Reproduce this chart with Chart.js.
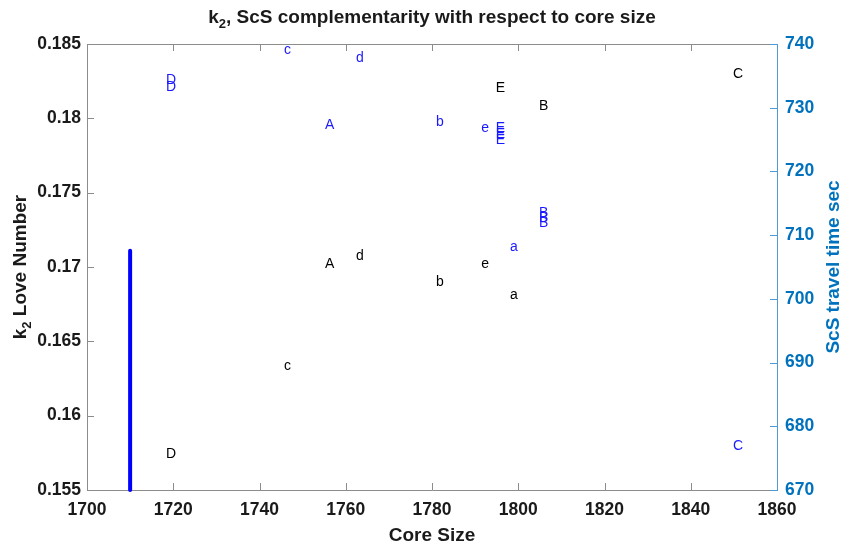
<!DOCTYPE html>
<html>
<head>
<meta charset="utf-8">
<script src="https://cdn.jsdelivr.net/npm/chart.js@4.4.1/dist/chart.umd.min.js"></script>
<style>
  html, body { margin:0; padding:0; background:#fff; }
  #wrap { width:845px; height:547px; }
</style>
</head>
<body>
<div id="wrap"><canvas id="k2Chart" width="845" height="547"></canvas></div>
<script>
/* ---------- data ---------- */

// k2 Love number (left axis, black letters)
const k2Letters = ['D','c','A','d','b','e','a','E','B','C'];
const k2Core    = [1718.3, 1745.7, 1755.2, 1762.4, 1780.9, 1791.4, 1798.1, 1794.8, 1804.8, 1849.8];
const k2Value   = [0.1574, 0.1633, 0.1702, 0.1707, 0.1690, 0.1702, 0.1681, 0.1820, 0.1808, 0.1830];

// ScS travel time (right axis, blue letters)
const scsLetters = ['D','D','c','d','A','b','e','E','E','E','a','B','B','B','C'];
const scsCore    = [1718.3, 1718.3, 1745.7, 1762.4, 1755.2, 1780.9, 1791.4, 1794.8, 1794.8, 1794.8, 1798.1, 1804.8, 1804.8, 1804.8, 1849.8];
const scsTime    = [734.4, 733.3, 739.1, 737.8, 727.3, 727.8, 726.8, 726.8, 725.9, 724.9, 708.1, 713.5, 712.7, 711.9, 676.9];

// thick blue bar (left axis)
const barCore = [1710, 1710];
const barK2   = [0.155, 0.1711];

// axes
const xTicks  = [1700, 1720, 1740, 1760, 1780, 1800, 1820, 1840, 1860];
const yTicks  = [0.155, 0.16, 0.165, 0.17, 0.175, 0.18, 0.185];
const y2Ticks = [670, 680, 690, 700, 710, 720, 730, 740];

const BLUE_AX = '#0072BD';
const FONT = '"Liberation Sans", Arial, Helvetica, sans-serif';

function pts(xs, ys){ return xs.map((x,i)=>({x:x, y:ys[i]})); }

/* ---------- plugins ---------- */

// box + inward ticks
const boxPlugin = {
    id:'box',
    beforeDatasetsDraw(chart){
        const {ctx, chartArea:a, scales} = chart;
        const tl = 7;
        ctx.save();
        ctx.lineWidth = 1;
        ctx.strokeStyle = '#8c8c8c';
        ctx.beginPath();
        ctx.moveTo(a.right, a.top+0.5); ctx.lineTo(a.left+0.5, a.top+0.5);
        ctx.lineTo(a.left+0.5, a.bottom+0.5); ctx.lineTo(a.right, a.bottom+0.5);
        xTicks.forEach(v=>{
            const px = Math.round(scales.x.getPixelForValue(v))+0.5;
            ctx.moveTo(px, a.bottom); ctx.lineTo(px, a.bottom-tl);
            ctx.moveTo(px, a.top); ctx.lineTo(px, a.top+tl);
        });
        yTicks.forEach(v=>{
            const py = Math.round(scales.y.getPixelForValue(v))+0.5;
            ctx.moveTo(a.left, py); ctx.lineTo(a.left+tl, py);
        });
        ctx.stroke();

        ctx.strokeStyle = '#4f9ad4';
        ctx.beginPath();
        ctx.moveTo(a.right+0.5, a.top); ctx.lineTo(a.right+0.5, a.bottom+1);
        y2Ticks.forEach(v=>{
            const py = Math.round(scales.y1.getPixelForValue(v))+0.5;
            ctx.moveTo(a.right, py); ctx.lineTo(a.right-tl, py);
        });
        ctx.stroke();
        ctx.restore();
    }
};

// letters placed at each data point (left edge, vertically centred)
const letterPlugin = {
    id:'letters',
    afterDatasetsDraw(chart){
        const ctx = chart.ctx;
        ctx.save();
        ctx.font = '14px ' + FONT;
        ctx.textAlign = 'left';
        ctx.textBaseline = 'middle';
        chart.data.datasets.forEach((ds, i)=>{
            if(!ds.letters) return;
            const meta = chart.getDatasetMeta(i);
            ctx.fillStyle = ds.letterColor;
            meta.data.forEach((el, j)=>{
                ctx.fillText(ds.letters[j], el.x, el.y);
            });
        });
        ctx.restore();
    }
};

// titles with the k2 subscript
const titlePlugin = {
    id:'titles',
    afterDraw(chart){
        const {ctx, chartArea:a} = chart;
        const cx = (a.left+a.right)/2;
        const cy = (a.top+a.bottom)/2;

        function subText(parts, x, y){
            // parts: [main, sub, rest]
            const big = 'bold 19px ' + FONT, small = 'bold 13px ' + FONT;
            ctx.font = big;  const w1 = ctx.measureText(parts[0]).width;
            const w3 = ctx.measureText(parts[2]).width;
            ctx.font = small; const w2 = ctx.measureText(parts[1]).width;
            let x0 = x - (w1+w2+w3)/2;
            ctx.textAlign = 'left';
            ctx.textBaseline = 'alphabetic';
            ctx.font = big;   ctx.fillText(parts[0], x0, y);
            ctx.font = small; ctx.fillText(parts[1], x0+w1, y+5);
            ctx.font = big;   ctx.fillText(parts[2], x0+w1+w2, y);
        }

        ctx.save();
        ctx.fillStyle = '#1a1a1a';
        subText(['k','2',', ScS complementarity with respect to core size'], cx, 23);

        // x title
        ctx.font = 'bold 19px ' + FONT;
        ctx.textAlign = 'center';
        ctx.textBaseline = 'alphabetic';
        ctx.fillText('Core Size', cx, 541);

        // left y title
        ctx.save();
        ctx.translate(26, cy);
        ctx.rotate(-Math.PI/2);
        subText(['k','2',' Love Number'], 0, 0);
        ctx.restore();

        // right y title
        ctx.save();
        ctx.fillStyle = BLUE_AX;
        ctx.translate(839, cy);
        ctx.rotate(-Math.PI/2);
        ctx.font = 'bold 19px ' + FONT;
        ctx.textAlign = 'center';
        ctx.fillText('ScS travel time sec', 0, 0);
        ctx.restore();

        ctx.restore();
    }
};

/* ---------- chart ---------- */

const ctx = document.getElementById('k2Chart');
const tickFont = {family:FONT, size:17.5, weight:'bold'};

new Chart(ctx, {
    type:'scatter',
    data:{
        datasets:[
            {
                label:'bar',
                type:'line',
                data:pts(barCore, barK2),
                yAxisID:'y',
                borderColor:'#0000ff',
                borderWidth:4,
                borderCapStyle:'round',
                pointRadius:0,
                clip:false
            },
            {
                label:'k2',
                data:pts(k2Core, k2Value),
                yAxisID:'y',
                pointRadius:0,
                letters:k2Letters,
                letterColor:'#000000'
            },
            {
                label:'ScS',
                data:pts(scsCore, scsTime),
                yAxisID:'y1',
                pointRadius:0,
                letters:scsLetters,
                letterColor:'#1a1aff'
            }
        ]
    },
    options:{
        responsive:false,
        animation:false,
        events:[],
        layout:{ padding:{ top:44, left:0, right:0, bottom:0 } },
        plugins:{ legend:{display:false}, title:{display:false}, tooltip:{enabled:false} },
        scales:{
            x:{
                type:'linear', min:1700, max:1860,
                afterBuildTicks(s){ s.ticks = xTicks.map(v=>({value:v})); },
                afterFit(s){ s.height = 57; },
                grid:{display:false, drawTicks:false, tickLength:0},
                border:{display:false},
                ticks:{ color:'#1a1a1a', padding:10, maxRotation:0, font:tickFont,
                        callback:v=>String(v) }
            },
            y:{
                type:'linear', position:'left', min:0.155, max:0.185,
                afterBuildTicks(s){ s.ticks = yTicks.map(v=>({value:v})); },
                afterFit(s){ s.width = 87; },
                grid:{display:false, drawTicks:false, tickLength:0},
                border:{display:false},
                ticks:{ color:'#1a1a1a', padding:6, font:tickFont,
                        callback:v=>String(+v.toFixed(3)) }
            },
            y1:{
                type:'linear', position:'right', min:670, max:740,
                afterBuildTicks(s){ s.ticks = y2Ticks.map(v=>({value:v})); },
                afterFit(s){ s.width = 68; },
                grid:{display:false, drawTicks:false, tickLength:0},
                border:{display:false},
                ticks:{ color:BLUE_AX, padding:8, font:tickFont,
                        callback:v=>String(v) }
            }
        }
    },
    plugins:[boxPlugin, letterPlugin, titlePlugin]
});
</script>
</body>
</html>
